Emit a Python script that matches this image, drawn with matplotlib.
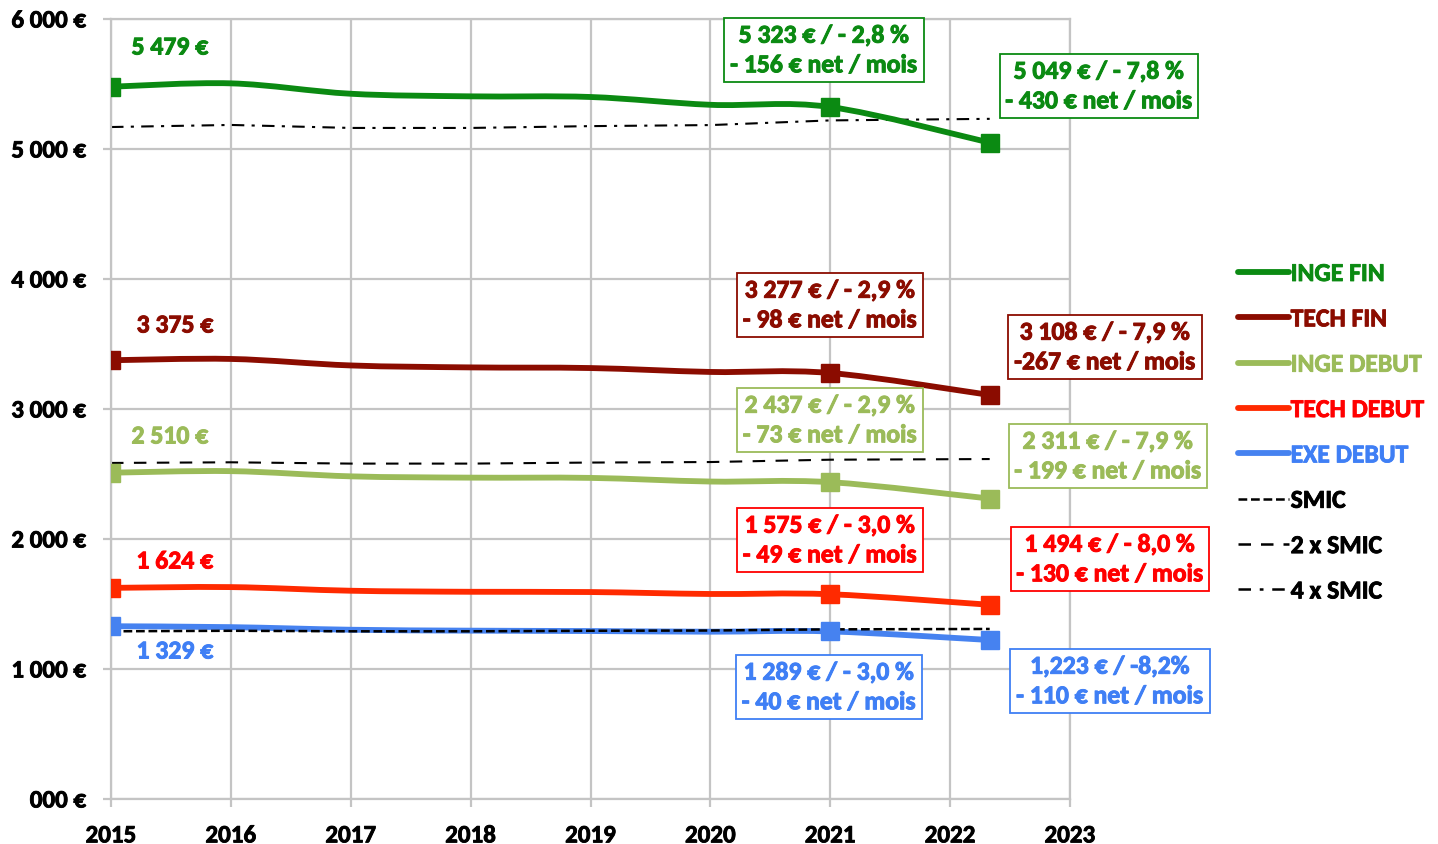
import numpy as np
import matplotlib.pyplot as plt
import matplotlib.patheffects as pe
from matplotlib.path import Path
from matplotlib.patches import PathPatch
from matplotlib.lines import Line2D

plt.rcParams['font.family'] = ['Carlito', 'Lato', 'DejaVu Sans']
plt.rcParams['font.weight'] = 'bold'

years = [2015, 2016, 2017, 2018, 2019, 2020, 2021, 2022.33]
marked = [0, 6, 7]

inge_fin = [5479, 5505, 5425, 5405, 5400, 5340, 5323, 5049]
tech_fin = [3375, 3385, 3335, 3320, 3315, 3285, 3277, 3108]
inge_debut = [2510, 2522, 2482, 2472, 2470, 2442, 2437, 2311]
tech_debut = [1624, 1630, 1602, 1594, 1592, 1577, 1575, 1494]
exe_debut = [1329, 1322, 1302, 1295, 1292, 1287, 1289, 1223]

smic = [1290, 1294, 1290, 1290, 1294, 1296, 1305, 1308]
smic2 = [2585, 2590, 2580, 2580, 2588, 2592, 2610, 2615]
smic4 = [5169, 5185, 5162, 5162, 5176, 5184, 5220, 5232]

series = [
    ("INGE FIN", inge_fin, '#0b8a12', '#0b8a12'),
    ("TECH FIN", tech_fin, '#8b0c00', '#8b0c00'),
    ("INGE DEBUT", inge_debut, '#9bbb59', '#9bbb59'),
    ("TECH DEBUT", tech_debut, '#ff2a00', '#ff0000'),
    ("EXE DEBUT", exe_debut, '#4682f0', '#3f7ff5'),
]

start_labels = ["5 479 €", "3 375 €", "2 510 €", "1 624 €", "1 329 €"]
mid_labels = [
    "5 323 € / - 2,8 %\n- 156 € net / mois",
    "3 277 € / - 2,9 %\n- 98 € net / mois",
    "2 437 € / - 2,9 %\n- 73 € net / mois",
    "1 575 € / - 3,0 %\n- 49 € net / mois",
    "1 289 € / - 3,0 %\n- 40 € net / mois",
]
end_labels = [
    "5 049 € / - 7,8 %\n- 430 € net / mois",
    "3 108 € / - 7,9 %\n-267 € net / mois",
    "2 311 € / - 7,9 %\n- 199 € net / mois",
    "1 494 € / - 8,0 %\n- 130 € net / mois",
    "1,223 € / -8,2%\n- 110 € net / mois",
]
ytick_labels = ["000 €", "1 000 €", "2 000 €", "3 000 €", "4 000 €", "5 000 €", "6 000 €"]


def smooth_path(x, y):
    pts = np.column_stack([x, y]).astype(float)
    n = len(pts)
    verts = [pts[0]]
    codes = [Path.MOVETO]
    for i in range(n - 1):
        p0 = pts[max(i - 1, 0)]
        p1 = pts[i]
        p2 = pts[i + 1]
        p3 = pts[min(i + 2, n - 1)]
        c1 = p1 + (p2 - p0) / 6.0
        c2 = p2 - (p3 - p1) / 6.0
        verts += [c1, c2, p2]
        codes += [Path.CURVE4] * 3
    return Path(verts, codes)


def px(x, y):
    # figure pixel -> data coords
    return 2015 + (x - 111) / 119.875, (800 - y) / 130.0 * 1000


def heavy(c, w=0.7):
    return [pe.withStroke(linewidth=w, foreground=c)]


fig = plt.figure(figsize=(14.38, 8.45), dpi=100)
ax = fig.add_axes([111 / 1438, 45 / 845, 959 / 1438, 780 / 845])

ax.set_xlim(2015, 2023)
ax.set_ylim(0, 6000)
ax.set_xticks(range(2015, 2024))
ax.set_yticks(range(0, 6001, 1000))
ax.set_yticklabels(ytick_labels)
ax.grid(True, color='#c4c4c4', lw=1.6)
ax.set_axisbelow(True)
for s in ax.spines.values():
    s.set_color('#c4c4c4')
    s.set_linewidth(1.6)
ax.tick_params(axis='both', direction='out', length=6, width=1.6, color='#c4c4c4',
               labelsize=18)
ax.tick_params(axis='y', pad=12)
ax.tick_params(axis='x', pad=13)
for lab in ax.get_xticklabels() + ax.get_yticklabels():
    lab.set_fontweight('bold')
    lab.set_path_effects(heavy('black', 0.6))

# reference lines
ax.plot(years, smic, color='black', lw=1.8, dashes=(3.5, 1.5), zorder=4)
ax.plot(years, smic2, color='black', lw=1.5, dashes=(6, 5), zorder=2)
ax.plot(years, smic4, color='black', lw=1.5, dashes=(6, 3.5, 1.5, 3.5), zorder=2)

mid_pos = [(824, 51), (830, 306), (830, 421), (830, 541), (829, 688)]
end_pos = [(1099, 87), (1105, 348), (1108, 457), (1110, 560), (1110, 682)]
start_pos = [(170, 48), (175, 326), (170, 437), (175, 562), (175, 652)]

for i, (name, vals, lc, tc) in enumerate(series):
    patch = PathPatch(smooth_path(years, vals), fill=False, edgecolor=lc, lw=4.2,
                      capstyle='round', joinstyle='round', zorder=3)
    ax.add_patch(patch)
    ax.plot([years[k] for k in marked], [vals[k] for k in marked], 's', color=lc,
            ms=13, zorder=5)
    ax.text(*px(*start_pos[i]), start_labels[i], color=tc, fontsize=18.5,
            fontweight='bold', ha='center', va='center', path_effects=heavy(tc))
    for lbl, pos in ((mid_labels[i], mid_pos[i]), (end_labels[i], end_pos[i])):
        ax.text(*px(*pos), lbl, color=tc, fontsize=18.5, fontweight='bold',
                ha='center', va='center', multialignment='center', linespacing=1.35,
                clip_on=False, zorder=6, path_effects=heavy(tc),
                bbox=dict(boxstyle='square,pad=0.22', fc='white', ec=tc, lw=1.3))

handles = [Line2D([], [], color=lc, lw=4.2, solid_capstyle='round') for _, _, lc, _ in series]
handles += [
    Line2D([], [], color='black', lw=1.8, dashes=(3.5, 1.5)),
    Line2D([], [], color='black', lw=1.8, dashes=(5, 4)),
    Line2D([], [], color='black', lw=1.8, dashes=(5, 3.5, 1.5, 3.5)),
]
names = [s[0] for s in series] + ["SMIC", "2 x SMIC", "4 x SMIC"]
leg = fig.legend(handles, names, loc='upper left', bbox_to_anchor=(1220 / 1438, 1 - 245 / 845),
                 frameon=False, handlelength=2.0, handletextpad=0.05, labelspacing=0.87,
                 borderpad=0.2, prop={'size': 18.5, 'weight': 'bold'})
for t, c in zip(leg.get_texts(), [s[3] for s in series] + ['black'] * 3):
    t.set_color(c)
    t.set_path_effects(heavy(c, 0.6))

fig.savefig("out.png", dpi=100)
